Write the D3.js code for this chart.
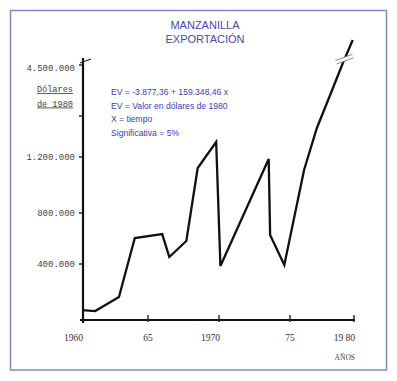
<!DOCTYPE html>
<html>
<head>
<meta charset="utf-8">
<script src="https://cdn.jsdelivr.net/npm/d3@7"></script>
<style>
html,body{margin:0;padding:0;background:#fff;}
svg{display:block;}
</style>
</head>
<body>
<svg id="chart" width="397" height="381"></svg>
<script>
// ---- data ----
const titleLines = ["MANZANILLA", "EXPORTACIÓN"];
const equationLines = [
  "EV = -3.877,36 + 159.348,46 x",
  "EV = Valor en dólares de 1980",
  "X = tiempo",
  "Significativa = 5%"
];
const years = [1960, 1961, 1962.8, 1964, 1966, 1966.5, 1967.7, 1968.5, 1969.8, 1970.1, 1973.5, 1973.6, 1974.6, 1976.1, 1977.1, 1978.2, 1979.1, 1979.9];
const values = [71000, 64000, 164000, 604000, 635000, 455000, 580000, 1121000, 1346000, 386000, 1186000, 627000, 393000, 1107000, 1483000, 2908000, 4557000, 5920000];
const xTickYears = [1960, 1965, 1970, 1975, 1980];
const xTickLabels = ["1960", "65", "1970", "75", "19 80"];
const yTickValues = [400000, 800000, 1200000, 1600000, 4500000];
const yTickLabels = ["400.000", "800.000", "1.200.000", "", "4.500.000"];
const yUnitLines = ["Dólares", "de 1980"];
const xUnit = "AÑOS";

// ---- scales (hand-drawn axis: piecewise linear) ----
const x = d3.scaleLinear().domain([1960, 1965, 1970, 1975, 1980]).range([82, 148, 219, 290, 354]);
const y = d3.scaleLinear().domain([0, 400000, 800000, 1200000, 1600000, 4500000]).range([320, 264, 213, 157, 116, 65]);

const svg = d3.select("#chart");

// frame
svg.append("rect").attr("x", 10.5).attr("y", 10.5).attr("width", 376).attr("height", 359.5)
  .attr("fill", "none").attr("stroke", "#8a86c4").attr("stroke-width", 1.5);

// title
svg.append("g").selectAll("text").data(titleLines).join("text")
  .attr("x", 205).attr("y", (d, i) => 29 + i * 14)
  .attr("text-anchor", "middle")
  .attr("font-family", "Liberation Sans, Arial, sans-serif").attr("font-size", 11)
  .attr("fill", "#4a4aa8").text(d => d);

// equation text
svg.append("g").selectAll("text").data(equationLines).join("text")
  .attr("x", 111).attr("y", (d, i) => 95 + i * 13.7)
  .attr("font-family", "Liberation Sans, Arial, sans-serif").attr("font-size", 8.6)
  .attr("fill", "#4040b0").text(d => d);

const axisX = x(1960) + 1;
const axisY = y(0);

// y axis
svg.append("line").attr("x1", axisX).attr("x2", axisX).attr("y1", 58).attr("y2", axisY + 3)
  .attr("stroke", "#111").attr("stroke-width", 2.2);
// top break mark on y axis
svg.append("line").attr("x1", axisX - 3).attr("y1", 63).attr("x2", axisX + 8).attr("y2", 59)
  .attr("stroke", "#222").attr("stroke-width", 1.2);

// y ticks
svg.append("g").selectAll("line").data(yTickValues).join("line")
  .attr("x1", axisX - 4).attr("x2", axisX).attr("y1", d => y(d)).attr("y2", d => y(d))
  .attr("stroke", "#222").attr("stroke-width", 1.4);
svg.append("g").selectAll("text").data(yTickValues).join("text")
  .attr("x", axisX - 8).attr("y", (d, i) => y(d) + 3 + (i === 4 ? 3 : 0))
  .attr("text-anchor", "end")
  .attr("font-family", "Liberation Mono, Courier New, monospace").attr("font-size", 9)
  .attr("fill", "#444").text((d, i) => yTickLabels[i]);

// y unit label (underlined)
const unitG = svg.append("g");
yUnitLines.forEach((t, i) => {
  unitG.append("text").attr("x", axisX - 10).attr("y", 92 + i * 14.5)
    .attr("text-anchor", "end")
    .attr("font-family", "Liberation Mono, Courier New, monospace").attr("font-size", 8.6)
    .attr("text-decoration", "underline")
    .attr("fill", "#444").text(t);
});

// x axis
svg.append("line").attr("x1", axisX - 3).attr("x2", x(1980) + 1).attr("y1", axisY).attr("y2", axisY)
  .attr("stroke", "#111").attr("stroke-width", 2);
svg.append("g").selectAll("line").data(xTickYears.slice(1)).join("line")
  .attr("x1", d => x(d)).attr("x2", d => x(d)).attr("y1", axisY - 5).attr("y2", axisY + 2)
  .attr("stroke", "#222").attr("stroke-width", 1.4);
svg.append("g").selectAll("text").data(xTickYears).join("text")
  .attr("x", (d, i) => xTickLabels[i].length > 2 ? x(d) + 1 : x(d))
  .attr("y", axisY + 21)
  .attr("text-anchor", (d, i) => xTickLabels[i].length > 2 ? "end" : "middle")
  .attr("font-family", "Liberation Serif, Times New Roman, serif").attr("font-size", 9.5)
  .attr("fill", "#333").text((d, i) => xTickLabels[i]);
svg.append("text").attr("x", x(1980) + 1).attr("y", axisY + 40)
  .attr("text-anchor", "end")
  .attr("font-family", "Liberation Serif, Times New Roman, serif").attr("font-size", 7.5)
  .attr("fill", "#444").text(xUnit);

// data line
const pts = years.map((yr, i) => [x(yr), y(values[i])]);
svg.append("path").datum(pts)
  .attr("d", d3.line().curve(d3.curveLinear))
  .attr("fill", "none").attr("stroke", "#111").attr("stroke-width", 2.3)
  .attr("stroke-linejoin", "miter");

// break mark on the line near the top
const a = pts[pts.length - 2], b = pts[pts.length - 1];
const cx = a[0] + (b[0] - a[0]) * 0.2, cy = a[1] + (b[1] - a[1]) * 0.2;
const brk = svg.append("g").attr("transform", `translate(${cx},${cy}) rotate(-20)`);
brk.append("rect").attr("x", -9).attr("y", -1.8).attr("width", 18).attr("height", 3.6).attr("fill", "#fff");
brk.append("line").attr("x1", -9).attr("x2", 9).attr("y1", -1.8).attr("y2", -1.8).attr("stroke", "#888").attr("stroke-width", 0.9);
brk.append("line").attr("x1", -9).attr("x2", 9).attr("y1", 1.8).attr("y2", 1.8).attr("stroke", "#888").attr("stroke-width", 0.9);
</script>
</body>
</html>
